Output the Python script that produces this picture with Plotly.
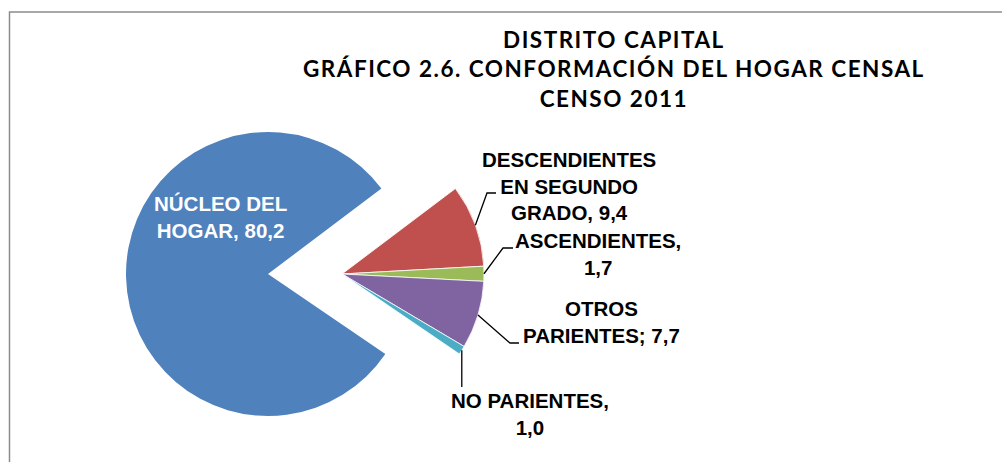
import math
import plotly.graph_objects as go

# ---- data ----
categories = ["DESCENDIENTES EN SEGUNDO GRADO", "ASCENDIENTES", "OTROS PARIENTES",
              "NO PARIENTES", "NÚCLEO DEL HOGAR"]
values = [9.4, 1.7, 7.7, 1.0, 80.2]
label_texts = ["DESCENDIENTES<br>EN SEGUNDO<br>GRADO, 9,4",
               "ASCENDIENTES,<br>1,7",
               "OTROS<br>PARIENTES; 7,7",
               "NO PARIENTES,<br>1,0",
               "NÚCLEO DEL<br>HOGAR, 80,2"]
colors = ["#C0504D", "#9BBB59", "#8064A2", "#4BACC6", "#4F81BD"]
title_lines = ["DISTRITO CAPITAL", "GRÁFICO 2.6. CONFORMACIÓN DEL HOGAR CENSAL", "CENSO 2011"]

# ---- layout geometry (pixels) ----
W, H = 1002, 462
R = 142                 # pie radius
CX, CY = 342, 274       # centre of the small slices
BLUE_SHIFT = 74         # exploded distance of the main slice
ROT = 53                # start angle (clockwise from 12 o'clock)

def fx(px):
    return px / W

def fy(py):
    return 1 - py / H

def dom(cx, cy):
    return dict(x=[fx(cx - R), fx(cx + R)], y=[fy(cy + R), fy(cy - R)])

TRANSP = "rgba(0,0,0,0)"
big = len(values) - 1
small_colors = [c if i != big else TRANSP for i, c in enumerate(colors)]
big_colors = [c if i == big else TRANSP for i, c in enumerate(colors)]
small_lw = [0.8 if i != big else 0 for i in range(len(values))]
big_lw = [0 for _ in range(len(values))]

common = dict(labels=categories, values=values, sort=False, direction="clockwise",
              rotation=ROT, textinfo="none", showlegend=False, hoverinfo="label+value")

fig = go.Figure()
fig.add_trace(go.Pie(domain=dom(CX - BLUE_SHIFT, CY),
                     marker=dict(colors=big_colors, line=dict(color="white", width=big_lw)),
                     **common))
fig.add_trace(go.Pie(domain=dom(CX, CY),
                     marker=dict(colors=small_colors, line=dict(color="white", width=small_lw)),
                     **common))

# slice mid-angles from the data
total = sum(values)
mids = []
acc = 0
for v in values:
    mids.append(ROT + (acc + v / 2) / total * 360)
    acc += v

def edge(i, rr=R):
    a = math.radians(mids[i])
    return CX + rr * math.sin(a), CY - rr * math.cos(a)

LF = dict(family="Liberation Sans, Arial, sans-serif", size=20.5, color="black")
label_pos = [(569, 186), (598, 254), (601, 322), (530, 413.5)]
elbows = [[(487, 193), (496, 193)],
          [(503, 248), (513, 248)],
          [(510, 343), (519, 343)],
          [None, None]]

annotations = []
shapes = []
for i in range(4):
    x, y = label_pos[i]
    annotations.append(dict(text="<b>%s</b>" % label_texts[i], x=fx(x), y=fy(y),
                            xref="paper", yref="paper", xanchor="center", yanchor="middle",
                            showarrow=False, font=LF, align="center"))
    sx, sy = edge(i)
    if elbows[i][0] is None:
        pts = [(sx, sy), (sx, 387)]
    else:
        pts = [(sx, sy)] + elbows[i]
    path = "M " + " L ".join("%f,%f" % (fx(px), fy(py)) for px, py in pts)
    shapes.append(dict(type="path", path=path, xref="paper", yref="paper",
                       line=dict(color="black", width=1.3)))

# main slice label (white, inside)
annotations.append(dict(text="<b>%s</b>" % label_texts[4], x=fx(220), y=fy(216.5),
                        xref="paper", yref="paper", xanchor="center", yanchor="middle",
                        showarrow=False, font=dict(LF, color="white"), align="center"))

# title
annotations.append(dict(text="<br>".join('<b><span style="letter-spacing:1.5px">%s</span></b>' % t
                                         for t in title_lines),
                        x=fx(614), y=fy(69), xref="paper", yref="paper",
                        xanchor="center", yanchor="middle", showarrow=False, align="center",
                        font=dict(family="Lato, sans-serif", size=22.5, color="black")))

# chart frame (left and top edges)
shapes.append(dict(type="path",
                   path="M %f,%f L %f,%f L %f,%f" % (fx(9.5), fy(H), fx(9.5), fy(12), fx(W), fy(12)),
                   xref="paper", yref="paper", line=dict(color="#8c8c8c", width=1.5)))

fig.update_layout(width=W, height=H, margin=dict(l=0, r=0, t=0, b=0),
                  paper_bgcolor="white", plot_bgcolor="white",
                  annotations=annotations, shapes=shapes)

fig.write_html("out.html", config={"displayModeBar": False},
               post_script="document.body.style.margin='0';")
